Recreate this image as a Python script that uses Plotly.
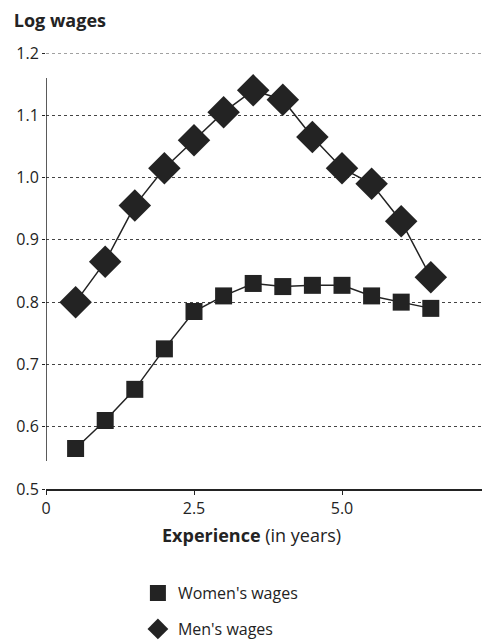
import plotly.graph_objects as go

experience = [0.5, 1.0, 1.5, 2.0, 2.5, 3.0, 3.5, 4.0, 4.5, 5.0, 5.5, 6.0, 6.5]
women_wages = [0.565, 0.61, 0.66, 0.725, 0.785, 0.81, 0.83, 0.825, 0.827, 0.827, 0.81, 0.80, 0.79]
men_wages = [0.80, 0.865, 0.955, 1.015, 1.06, 1.105, 1.14, 1.125, 1.065, 1.015, 0.99, 0.93, 0.84]

y_ticks = [0.5, 0.6, 0.7, 0.8, 0.9, 1.0, 1.1, 1.2]
y_labels = ["0.5", "0.6", "0.7", "0.8", "0.9", "1.0", "1.1", "1.2"]
x_ticks = [0, 2.5, 5.0, 7.5]
x_labels = ["0", "2.5", "5.0", ""]

INK = "#232323"
FONT = "Open Sans, sans-serif"

fig = go.Figure()

fig.add_trace(go.Scatter(
    x=experience, y=men_wages, mode="lines+markers",
    line=dict(color=INK, width=1.5),
    marker=dict(symbol="diamond", size=25, color=INK),
    showlegend=False, cliponaxis=False,
))
fig.add_trace(go.Scatter(
    x=experience, y=women_wages, mode="lines+markers",
    line=dict(color=INK, width=1.5),
    marker=dict(symbol="square", size=17, color=INK),
    showlegend=False, cliponaxis=False,
))
# legend-only entries (marker only)
fig.add_trace(go.Scatter(
    x=[None], y=[None], mode="markers", name="Women's wages",
    marker=dict(symbol="square", size=16, color=INK), legendgroup="w",
))
fig.add_trace(go.Scatter(
    x=[None], y=[None], mode="markers", name="Men's wages",
    marker=dict(symbol="diamond", size=18, color=INK), legendgroup="m",
))

fig.update_layout(
    width=482, height=636,
    margin=dict(l=38, r=0, t=45, b=155, autoexpand=False),
    paper_bgcolor="white", plot_bgcolor="white",
    font=dict(family=FONT, size=16, color=INK),
    title=dict(text="<b>Log wages</b>", x=0.012, xanchor="left", y=0.99, yanchor="top",
               font=dict(size=18, color=INK, family=FONT)),
    legend=dict(x=0.207, xanchor="left", y=-0.2, yanchor="top", orientation="v",
                tracegroupgap=12, font=dict(size=16, color=INK), bgcolor="rgba(0,0,0,0)"),
    xaxis=dict(range=[0, 7.5], tickvals=x_ticks, ticktext=x_labels, showgrid=False,
               zeroline=False, showline=True, linecolor=INK, linewidth=1.5,
               ticks="outside", ticklen=4, tickcolor=INK, tickfont=dict(size=16)),
    yaxis=dict(range=[0.5, 1.2], tickvals=y_ticks, ticktext=y_labels, showgrid=True,
               gridcolor="#444", griddash="dot", gridwidth=1.2, zeroline=False,
               showline=False, ticks="outside", ticklen=3, tickcolor=INK,
               tickfont=dict(size=16)),
    annotations=[dict(text="<b>Experience</b> (in years)", xref="paper", yref="paper",
                      x=0.462, y=-0.105, xanchor="center", yanchor="middle",
                      showarrow=False, font=dict(size=18, color=INK))],
    shapes=[
        dict(type="line", xref="x", yref="y", x0=0, x1=0, y0=0.545, y1=1.16,
             line=dict(color=INK, width=1.5)),
        dict(type="line", xref="paper", yref="y", x0=0, x1=1, y0=1.2, y1=1.2,
             line=dict(color="#444", width=1.2, dash="dot")),
    ],
)

fig.write_html("out.html")
